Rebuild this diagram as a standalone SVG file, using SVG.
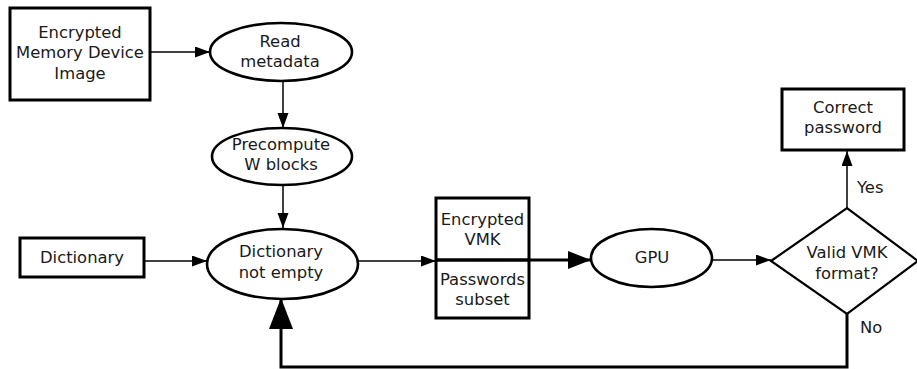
<svg xmlns="http://www.w3.org/2000/svg" width="917" height="369" viewBox="0 0 917 369">
<style>
text{font-family:"DejaVu Sans","Liberation Sans",sans-serif;font-size:16.4px;fill:#1a1a1a;text-anchor:middle}
.box{fill:#fff;stroke:#000;stroke-width:3}
.ell{fill:#fff;stroke:#000;stroke-width:2.6}
.c{fill:none;stroke:#000;stroke-width:1.5}
.ct{fill:none;stroke:#000;stroke-width:3}
.lbl{text-anchor:start}
</style>
<defs>
<marker id="a" markerUnits="userSpaceOnUse" markerWidth="16" markerHeight="12" refX="15" refY="5.5" orient="auto"><path d="M0,0 L15,5.5 L0,11 Z" fill="#000"/></marker>
<marker id="am" markerUnits="userSpaceOnUse" markerWidth="24" markerHeight="19" refX="23" refY="9" orient="auto"><path d="M0,0 L23,9 L0,18 Z" fill="#000"/></marker>
<marker id="ab" markerUnits="userSpaceOnUse" markerWidth="32" markerHeight="25" refX="31" refY="12" orient="auto"><path d="M0,0 L31,12 L0,24 Z" fill="#000"/></marker>
</defs>
<g id="connectors">
<line class="c" x1="150" y1="52" x2="210" y2="52" marker-end="url(#a)"/>
<line class="c" x1="283" y1="81" x2="283" y2="128" marker-end="url(#a)"/>
<line class="c" x1="283" y1="185" x2="283" y2="228" marker-end="url(#a)"/>
<line class="c" x1="144" y1="261" x2="207" y2="261" marker-end="url(#a)"/>
<line class="c" x1="358" y1="261" x2="436" y2="261" marker-end="url(#a)"/>
<line class="ct" x1="529" y1="260" x2="591" y2="260" marker-end="url(#am)"/>
<line class="c" x1="712" y1="260" x2="771" y2="260" marker-end="url(#a)"/>
<line class="c" x1="847" y1="208" x2="847" y2="151" marker-end="url(#a)"/>
<path class="ct" d="M847,314 L847,367 L281,367 L281,298" marker-end="url(#ab)"/>
<text class="lbl" x="857" y="193">Yes</text>
<text class="lbl" x="860" y="333">No</text>
</g>
<g id="image">
<rect class="box" x="10" y="8" width="140" height="92"/>
<text x="80" y="37.5">Encrypted</text>
<text x="80" y="58">Memory Device</text>
<text x="80" y="78.5">Image</text>
</g>
<g id="read">
<ellipse class="ell" cx="281" cy="52" rx="71" ry="29"/>
<text x="280" y="47">Read</text>
<text x="280" y="67">metadata</text>
</g>
<g id="precompute">
<ellipse class="ell" cx="282" cy="156.5" rx="70" ry="28.5"/>
<text x="281" y="150">Precompute</text>
<text x="281" y="170">W blocks</text>
</g>
<g id="dictionary">
<rect class="box" x="20" y="238" width="124" height="39"/>
<text x="82" y="263">Dictionary</text>
</g>
<g id="notempty">
<ellipse class="ell" cx="282.5" cy="264" rx="75.5" ry="35"/>
<text x="281" y="257">Dictionary</text>
<text x="281" y="278">not empty</text>
</g>
<g id="vmkbox">
<rect class="box" x="436" y="198" width="93" height="120"/>
<line x1="436" y1="260" x2="529" y2="260" stroke="#000" stroke-width="3.5"/>
<text x="482.5" y="225">Encrypted</text>
<text x="482.5" y="245">VMK</text>
<text x="482.5" y="285">Passwords</text>
<text x="482.5" y="305">subset</text>
</g>
<g id="gpu">
<ellipse class="ell" cx="651.5" cy="258" rx="60.5" ry="29"/>
<text x="652" y="263">GPU</text>
</g>
<g id="valid">
<polygon points="771,261 847,208 918,261 847,314" fill="#fff" stroke="#000" stroke-width="2.2"/>
<text x="847" y="258">Valid VMK</text>
<text x="847" y="279">format?</text>
</g>
<g id="correct">
<rect class="box" x="782" y="89" width="122" height="61"/>
<text x="843" y="113">Correct</text>
<text x="843" y="133">password</text>
</g>
</svg>
